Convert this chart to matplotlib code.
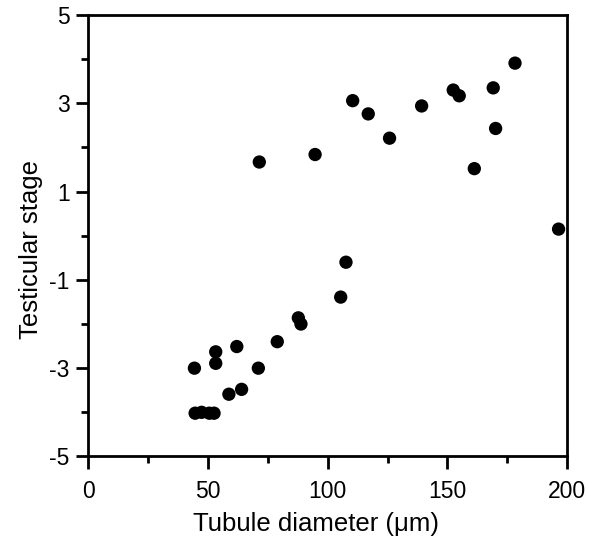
import matplotlib
matplotlib.use("Agg")
from matplotlib import pyplot as plt
from matplotlib.ticker import MultipleLocator

# tubule diameter (um) vs testicular stage
diameter = [178.2, 169.1, 152.4, 154.9, 110.4, 116.9, 139.2, 125.8, 170.1, 161.2,
            94.7, 71.4, 196.4, 107.6, 105.4, 87.7, 88.8, 78.9, 62.0, 53.2,
            53.2, 44.3, 71.0, 64.0, 58.7, 44.6, 47.3, 50.5, 52.5]
stage = [3.91, 3.35, 3.30, 3.17, 3.06, 2.76, 2.94, 2.21, 2.43, 1.52,
         1.84, 1.67, 0.15, -0.60, -1.39, -1.86, -2.00, -2.40, -2.51, -2.63,
         -2.89, -3.00, -3.00, -3.48, -3.59, -4.02, -4.00, -4.02, -4.02]

x_ticks = [0, 50, 100, 150, 200]
y_ticks = [-5, -3, -1, 1, 3, 5]

plt.rcParams["font.family"] = ["Liberation Sans", "DejaVu Sans"]
plt.rcParams["axes.unicode_minus"] = False

fig = plt.figure(figsize=(5.89, 5.46), dpi=100)
ax = fig.add_axes([0.150, 0.164, 0.813, 0.8085])

ax.scatter(diameter, stage, s=92, color="black", edgecolors="none", zorder=3, clip_on=False)

ax.set_xlim(0, 200)
ax.set_ylim(-5, 5)
ax.set_xticks(x_ticks)
ax.set_yticks(y_ticks)
ax.xaxis.set_minor_locator(MultipleLocator(25))
ax.yaxis.set_minor_locator(MultipleLocator(1))

for sp in ax.spines.values():
    sp.set_linewidth(2.0)

ax.tick_params(which="both", direction="out", width=2.0, labelsize=16.5,
               top=False, right=False)
ax.tick_params(axis="x", which="major", length=9, pad=8)
ax.tick_params(axis="y", which="major", length=8.5, pad=5)
ax.tick_params(which="minor", length=5)

ax.set_xlabel("Tubule diameter (\u03bcm)", fontsize=18.5)
ax.set_ylabel("Testicular stage", fontsize=18.5)
# labels sit a bit off-centre in the original
ax.xaxis.set_label_coords(0.476, -0.125)
ax.yaxis.set_label_coords(-0.095, 0.468)

fig.savefig("out.png", dpi=100)
